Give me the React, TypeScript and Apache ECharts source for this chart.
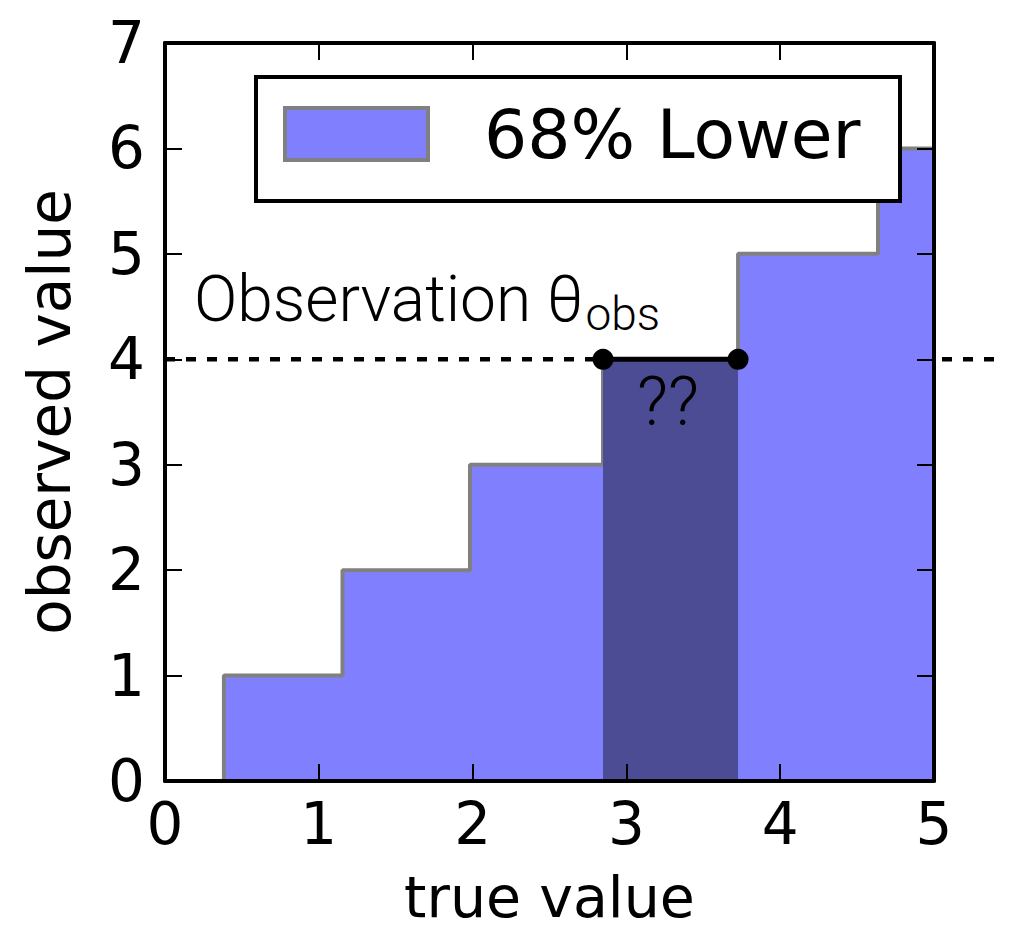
import React, { useEffect, useRef } from "react";
import * as echarts from "echarts";

// ---- data ----
const stepEdges = [0.383, 1.154, 1.983, 2.848, 3.726, 4.636];
const stepLevels = [1, 2, 3, 4, 5, 6];
const xMin = 0;
const xMax = 5;
const yMin = 0;
const yMax = 7;
const bandRange = [2.848, 3.726];
const observed = 4;
const dashRange = [0, 5.42];
const legendLabel = "68% Lower";
const xName = "true value";
const yName = "observed value";

const FILL = "#8080ff";
const DARK = "#4b4c94";
const GRAY = "#808080";
const DV = "DejaVu Sans";

function buildStep(): number[][] {
  const pts: number[][] = [[stepEdges[0], 0]];
  for (let i = 0; i < stepEdges.length; i++) {
    const next = i + 1 < stepEdges.length ? stepEdges[i + 1] : xMax;
    pts.push([stepEdges[i], stepLevels[i]]);
    pts.push([next, stepLevels[i]]);
  }
  return pts;
}

export default function App() {
  const ref = useRef<HTMLDivElement>(null);
  useEffect(() => {
    if (!ref.current) return;
    const chart = echarts.init(ref.current, null, { renderer: "svg" });
    const axisCommon = {
      type: "value",
      z: 10,
      axisLine: { show: true, onZero: false, lineStyle: { color: "#000", width: 4 } },
      axisTick: { show: true, inside: true, length: 17, lineStyle: { color: "#000", width: 2 } },
      splitLine: { show: false },
    };
    const labelStyle = { fontSize: 58, fontFamily: DV, color: "#000" };
    chart.setOption({
      animation: false,
      backgroundColor: "#fff",
      grid: { left: 165, right: 78, top: 43, bottom: 149, containLabel: false, outerBoundsMode: "none" },
      xAxis: [
        {
          ...axisCommon,
          min: xMin,
          max: xMax,
          interval: 1,
          position: "bottom",
          axisLabel: { ...labelStyle, margin: 14 },
          name: xName,
          nameLocation: "middle",
          nameGap: 94,
          nameTextStyle: { ...labelStyle, fontSize: 57, lineHeight: 44 },
        },
        {
          ...axisCommon,
          min: xMin,
          max: xMax,
          interval: 1,
          position: "top",
          axisLabel: { show: false },
        },
      ],
      yAxis: [
        {
          ...axisCommon,
          min: yMin,
          max: yMax,
          interval: 1,
          position: "left",
          axisLabel: { ...labelStyle, margin: 20 },
          name: yName,
          nameLocation: "middle",
          nameRotate: 90,
          nameGap: 86,
          nameTextStyle: labelStyle,
        },
        {
          ...axisCommon,
          min: yMin,
          max: yMax,
          interval: 1,
          position: "right",
          axisLabel: { show: false },
        },
      ],
      series: [
        {
          type: "line",
          name: legendLabel,
          data: buildStep(),
          showSymbol: false,
          symbol: "none",
          lineStyle: { color: GRAY, width: 4 },
          areaStyle: { color: FILL, opacity: 1 },
          z: 2,
        },
        {
          type: "line",
          data: [
            [bandRange[0], observed],
            [bandRange[1], observed],
          ],
          symbol: "none",
          lineStyle: { width: 0 },
          areaStyle: { color: DARK, opacity: 1 },
          z: 3,
        },
        {
          type: "line",
          data: [
            [bandRange[0], observed],
            [bandRange[1], observed],
          ],
          symbol: "circle",
          symbolSize: 21,
          itemStyle: { color: "#000" },
          lineStyle: { color: "#000", width: 5 },
          z: 5,
        },
      ],
    });
    const p0 = chart.convertToPixel({ xAxisIndex: 0, yAxisIndex: 0 }, [dashRange[0], observed]) as number[];
    const p1 = chart.convertToPixel({ xAxisIndex: 0, yAxisIndex: 0 }, [dashRange[1], observed]) as number[];
    chart.setOption({
      graphic: [
        {
          type: "line",
          z: 1,
          shape: { x1: p0[0], y1: p0[1], x2: p1[0], y2: p1[1] },
          style: { stroke: "#000", lineWidth: 4.5, lineDash: [10, 11] },
        },
        {
          type: "rect",
          z: 100,
          shape: { x: 256, y: 77, width: 644, height: 124 },
          style: { fill: "#fff", stroke: "#000", lineWidth: 4 },
        },
        {
          type: "rect",
          z: 101,
          shape: { x: 285, y: 108, width: 143, height: 52 },
          style: { fill: FILL, stroke: GRAY, lineWidth: 4 },
        },
        {
          type: "text",
          z: 101,
          x: 484,
          y: 134,
          style: {
            text: legendLabel,
            fontSize: 68,
            fontFamily: DV,
            fill: "#000",
            verticalAlign: "middle",
            align: "left",
          },
        },
        {
          type: "text",
          z: 101,
          x: 194,
          y: 294,
          style: {
            text: "{a|Observation θ}{b|obs}",
            verticalAlign: "middle",
            align: "left",
            rich: {
              a: { fontSize: 64, fontFamily: "Roboto", fontWeight: 300, fill: "#000", lineHeight: 74, verticalAlign: "bottom" },
              b: { fontSize: 46, fontFamily: "Roboto", fontWeight: 300, fill: "#000", lineHeight: 74, verticalAlign: "bottom", padding: [0, 0, -6, 2] },
            },
          },
        },
        {
          type: "text",
          z: 101,
          x: 668,
          y: 402,
          style: {
            text: "??",
            fontSize: 68,
            fontFamily: "Roboto",
            fontWeight: 300,
            fill: "#000",
            align: "center",
            verticalAlign: "middle",
          },
        },
      ],
    });
    return () => chart.dispose();
  }, []);
  return (
    <div
      ref={ref}
      style={{ position: "fixed", left: 0, top: 0, width: 1012, height: 930 }}
    />
  );
}
